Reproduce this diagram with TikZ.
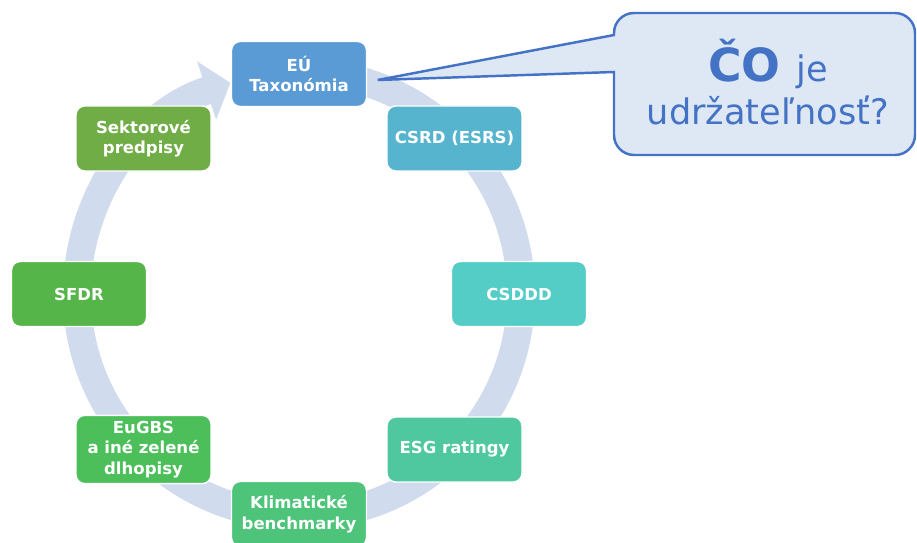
\documentclass[tikz,border=0pt]{standalone}
\usepackage{fontspec}
\setmainfont{DejaVu Sans}
\usetikzlibrary{arrows.meta,calc}

\definecolor{kruhfarba}{HTML}{D0DBEE}
\definecolor{modra}{HTML}{4472C4}
\definecolor{bublinafarba}{HTML}{DEE8F5}
\definecolor{fEU}{HTML}{5B9BD5}
\definecolor{fCSRD}{HTML}{56B4CF}
\definecolor{fCSDDD}{HTML}{54CDC6}
\definecolor{fESG}{HTML}{4FC8A0}
\definecolor{fKlim}{HTML}{4DC47A}
\definecolor{fEuGBS}{HTML}{4CBF5B}
\definecolor{fSFDR}{HTML}{55B548}
\definecolor{fSekt}{HTML}{70AD47}

\begin{document}
\begin{tikzpicture}[
    polozka/.style={rectangle,rounded corners=5pt,draw=white,line width=0.8pt,
        minimum width=2.7cm,minimum height=1.3cm,align=center,text=white,
        font=\fontsize{9.4}{11.6}\selectfont\bfseries},
    kruh/.style={kruhfarba,line width=0.56cm,-{Triangle[width=1.2cm,length=0.5cm]}},
    bublina/.style={draw=modra,fill=bublinafarba,line width=1.4pt},
    otazka/.style={align=center,text=modra,font=\fontsize{20}{24.4}\selectfont}
]
\useasboundingbox (0,0) rectangle (18.34,-10.86);

% kruh v pozadi
\coordinate (stred) at (5.98,-5.88);
\draw[kruh] (stred) ++(95:4.44) arc[start angle=95,end angle=-252,radius=4.44];

% polozky po obvode
\node[polozka,fill=fEU] (eu) at (5.98,-1.48) {EÚ\\Taxonómia};
\node[polozka,fill=fCSRD] (csrd) at (9.09,-2.77) {CSRD (ESRS)};
\node[polozka,fill=fCSDDD] (csddd) at (10.38,-5.88) {CSDDD};
\node[polozka,fill=fESG] (esg) at (9.09,-8.99) {ESG ratingy};
\node[polozka,fill=fKlim] (klim) at (5.98,-10.28) {Klimatické\\benchmarky};
\node[polozka,fill=fEuGBS] (eugbs) at (2.87,-8.99) {EuGBS\\a iné zelené\\dlhopisy};
\node[polozka,fill=fSFDR] (sfdr) at (1.58,-5.88) {SFDR};
\node[polozka,fill=fSekt] (sekt) at (2.87,-2.77) {Sektorové\\predpisy};

% bublina s otazkou
\coordinate (tip) at ($(eu.east)+(0.21,-0.12)$);
\draw[bublina] (tip) -- (12.28,-1.44) [rounded corners=0.4cm] -- (12.28,-3.10)
    -- (18.30,-3.10) -- (18.30,-0.26) -- (12.28,-0.26) [sharp corners] -- (12.28,-0.70) -- cycle;
\node[otazka] (otazka) at (15.36,-1.64) {{\fontsize{26}{26}\selectfont\bfseries ČO }je\\udržateľnosť?};
\end{tikzpicture}
\end{document}
